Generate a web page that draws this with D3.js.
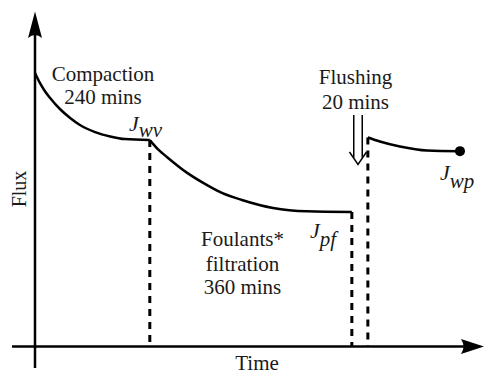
<!DOCTYPE html>
<html>
<head>
<meta charset="utf-8">
<script src="https://cdn.jsdelivr.net/npm/d3@7/dist/d3.min.js"></script>
<style>
  html, body { margin: 0; padding: 0; background: #fff; }
  svg { display: block; }
</style>
</head>
<body>
<svg id="chart" width="484" height="374"></svg>
<script>
// Schematic flux history: [time, flux] in arbitrary units (0-100 on both axes)
const compaction = [
  [0, 81.8], [1.1, 78.8], [2.2, 76.4], [3.4, 74.3], [5.6, 71.0], [7.9, 68.3],
  [10.1, 66.2], [13.5, 64.1], [16.9, 62.8], [20.2, 62.0], [25.8, 61.7]
];
const filtration = [
  [25.8, 61.7], [27.6, 59.0], [29.7, 56.6], [34.2, 51.9], [37.8, 48.9],
  [42.0, 45.9], [46.5, 43.8], [53.5, 41.4], [61.1, 40.4], [71.2, 40.2]
];
const afterFlush = [
  [74.8, 62.5], [77.5, 61.3], [82.0, 59.8], [88.1, 58.6], [95.5, 58.4]
];

const stageLabels = [
  ["Compaction", "240 mins"],
  ["Foulants*", "filtration", "360 mins"],
  ["Flushing", "20 mins"]
];
const fluxSymbols = [["J", "wv"], ["J", "pf"], ["J", "wp"]];
const axisTitles = ["Time", "Flux"];

const serif = "'Liberation Serif', 'Times New Roman', 'DejaVu Serif', serif";
const svg = d3.select("#chart")
  .attr("font-family", serif)
  .style("font-family", serif);
const x = d3.scaleLinear().domain([0, 100]).range([35, 480]);
const y = d3.scaleLinear().domain([0, 100]).range([346.5, 12]);

const ink = "#000";
const textInk = "#1a1a1a";

// Axes: crossing lines with stealth arrowheads
const ox = x(0), oy = y(0);
svg.append("line").attr("x1", ox - 23).attr("x2", 470).attr("y1", oy).attr("y2", oy)
  .attr("stroke", ink).attr("stroke-width", 2.5);
svg.append("line").attr("x1", ox).attr("x2", ox).attr("y1", oy + 21.5).attr("y2", 30)
  .attr("stroke", ink).attr("stroke-width", 2.5);
svg.append("path")
  .attr("d", `M484,${oy} L461,${oy - 7.5} Q466,${oy} 461,${oy + 7.5} Z`)
  .attr("fill", ink);
svg.append("path")
  .attr("d", `M${ox},11.5 L${ox - 7},38 Q${ox},32 ${ox + 7},38 Z`)
  .attr("fill", ink);

// Flux curves
const line = d3.line().x(d => x(d[0])).y(d => y(d[1])).curve(d3.curveMonotoneX);
[compaction, filtration, afterFlush].forEach(seg => {
  svg.append("path").attr("d", line(seg))
    .attr("fill", "none").attr("stroke", ink).attr("stroke-width", 2.5);
});

// Stage boundaries
const bounds = [compaction[compaction.length - 1], filtration[filtration.length - 1], afterFlush[0]];
bounds.forEach(p => {
  svg.append("line")
    .attr("x1", x(p[0])).attr("x2", x(p[0]))
    .attr("y1", y(p[1])).attr("y2", y(0))
    .attr("stroke", ink).attr("stroke-width", 3)
    .attr("stroke-dasharray", "7,6");
});

// End point marker
const last = afterFlush[afterFlush.length - 1];
svg.append("circle").attr("cx", x(last[0])).attr("cy", y(last[1])).attr("r", 5).attr("fill", ink);

// Stage captions
function caption(lines, cx, baselines) {
  lines.forEach((t, i) => {
    svg.append("text").attr("x", cx).attr("y", baselines[i])
      .attr("text-anchor", "middle").attr("font-size", 21)
      .attr("fill", textInk).text(t);
  });
}
caption(stageLabels[0], 103, [81, 103.5]);
caption(stageLabels[1], 242.5, [245.5, 270.5, 294]);
caption(stageLabels[2], 355.5, [83.5, 108.5]);

// Flux symbols with subscripts
function symbol(s, sx, base, subDy) {
  const t = svg.append("text").attr("x", sx).attr("y", base)
    .attr("font-size", 22).attr("font-style", "italic").attr("fill", textInk);
  t.append("tspan").text(s[0]);
  t.append("tspan").attr("dy", subDy).attr("font-size", 21).text(s[1]);
}
symbol(fluxSymbols[0], 129, 130.5, 6.5);
symbol(fluxSymbols[1], 310, 237.5, 8);
symbol(fluxSymbols[2], 440, 179.5, 8.5);

// Flushing arrow (double shaft, open head)
const ax = 358, aTop = 115, aBase = 152, aTip = 164.5, half = 8.5, gap = 4.25;
const shaftEnd = aBase + (gap / half) * (aTip - aBase);
svg.append("path")
  .attr("d", `M${ax - gap},${aTop} V${shaftEnd} M${ax + gap},${aTop} V${shaftEnd}
              M${ax - half},${aBase} L${ax},${aTip} L${ax + half},${aBase}`)
  .attr("fill", "none").attr("stroke", ink).attr("stroke-width", 1.5);

// Axis titles
svg.append("text").attr("x", 257).attr("y", 370).attr("text-anchor", "middle")
  .attr("font-size", 21).attr("fill", textInk).text(axisTitles[0]);
svg.append("text").attr("transform", "translate(26,189) rotate(-90)")
  .attr("text-anchor", "middle").attr("font-size", 20).attr("fill", textInk).text(axisTitles[1]);
</script>
</body>
</html>
